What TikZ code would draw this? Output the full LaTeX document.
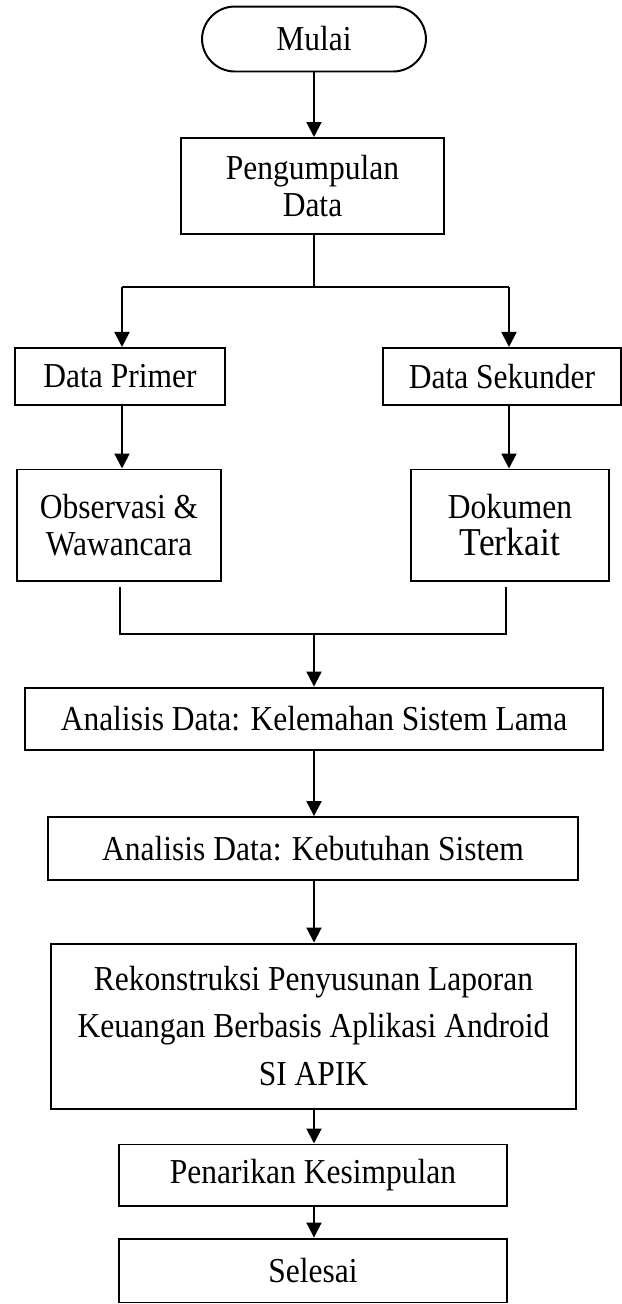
\documentclass[tikz,border=0pt]{standalone}
\usepackage{fontspec}
\setmainfont{Liberation Serif}[FakeStretch=0.9]
\usetikzlibrary{arrows.meta}

\begin{document}
\begin{tikzpicture}[x=0.38pt,y=-0.38pt,line width=0.75pt]
  \tikzstyle{box} = [draw,rectangle,inner sep=0pt,align=center,font=\fontsize{13.3}{13.8}\selectfont]
  \tikzstyle{term} = [box,rounded corners=12.5pt]
  \tikzstyle{arr} = [draw,-{Triangle[length=5.7pt,width=5.7pt]}]
  \useasboundingbox (0,0) rectangle (622,1304);
  %%
  \node[term,minimum width=85.1pt,minimum height=24.7pt] (mulai) at (314,39) {Mulai};
  \node[box,minimum width=99.9pt,minimum height=36.5pt] (kumpul) at (312.5,186) {Pengumpulan\\Data};
  %%
  \node[box,minimum width=79.8pt,minimum height=21.7pt] (primer) at (120,376.5) {Data Primer};
  \node[box,minimum width=90.4pt,minimum height=21.7pt] (sekunder) at (502,376.5) {Data Sekunder};
  \node[box,minimum width=77.5pt,minimum height=42.2pt] (observasi) at (119,525) {Observasi \&\\Wawancara};
  \node[box,minimum width=75.2pt,minimum height=42.2pt] (dokumen) at (510,525) {Dokumen\\{\fontsize{15}{16}\selectfont Terkait}};
  %%
  \node[box,minimum width=219.6pt,minimum height=23.9pt] (lemah) at (314,719) {Analisis Data: Kelemahan Sistem Lama};
  \node[box,minimum width=201.4pt,minimum height=23.9pt] (butuh) at (313,848.5) {Analisis Data: Kebutuhan Sistem};
  \node[box,minimum width=199.5pt,minimum height=62.7pt,font=\fontsize{13.3}{17.9}\selectfont] (rekon) at (313.5,1026)
    {Rekonstruksi Penyusunan Laporan\\Keuangan Berbasis Aplikasi Android\\SI APIK};
  \node[box,minimum width=147.4pt,minimum height=23.2pt] (simpul) at (313,1175) {Penarikan Kesimpulan};
  \node[box,minimum width=147.4pt,minimum height=24.3pt] (selesai) at (313,1270.5) {Selesai};
  %%
  \coordinate (split) at (314,287);
  \coordinate (splitL) at (122,287);
  \coordinate (splitR) at (509,287);
  \coordinate (mergeL) at (120,634);
  \coordinate (mergeR) at (506,634);
  \coordinate (merge) at (314,634);
  %%
  \path [arr] (mulai.south) -- (mulai.south |- kumpul.north);
  \draw (kumpul.south -| split) -- (split);
  \draw (splitL) -- (splitR);
  \path [arr] (splitL) -- (splitL |- primer.north);
  \path [arr] (splitR) -- (splitR |- sekunder.north);
  \path [arr] (splitL |- primer.south) -- (splitL |- observasi.north);
  \path [arr] (splitR |- sekunder.south) -- (splitR |- dokumen.north);
  \draw ([yshift=-2pt]observasi.south -| mergeL) -- (mergeL) -- (mergeR) -- ([yshift=-2pt]dokumen.south -| mergeR);
  \path [arr] (merge) -- (merge |- lemah.north);
  \path [arr] (lemah.south -| merge) -- (merge |- butuh.north);
  \path [arr] (butuh.south -| merge) -- (merge |- rekon.north);
  \path [arr] (rekon.south -| merge) -- (merge |- simpul.north);
  \path [arr] (simpul.south -| merge) -- (merge |- selesai.north);
\end{tikzpicture}
\end{document}
